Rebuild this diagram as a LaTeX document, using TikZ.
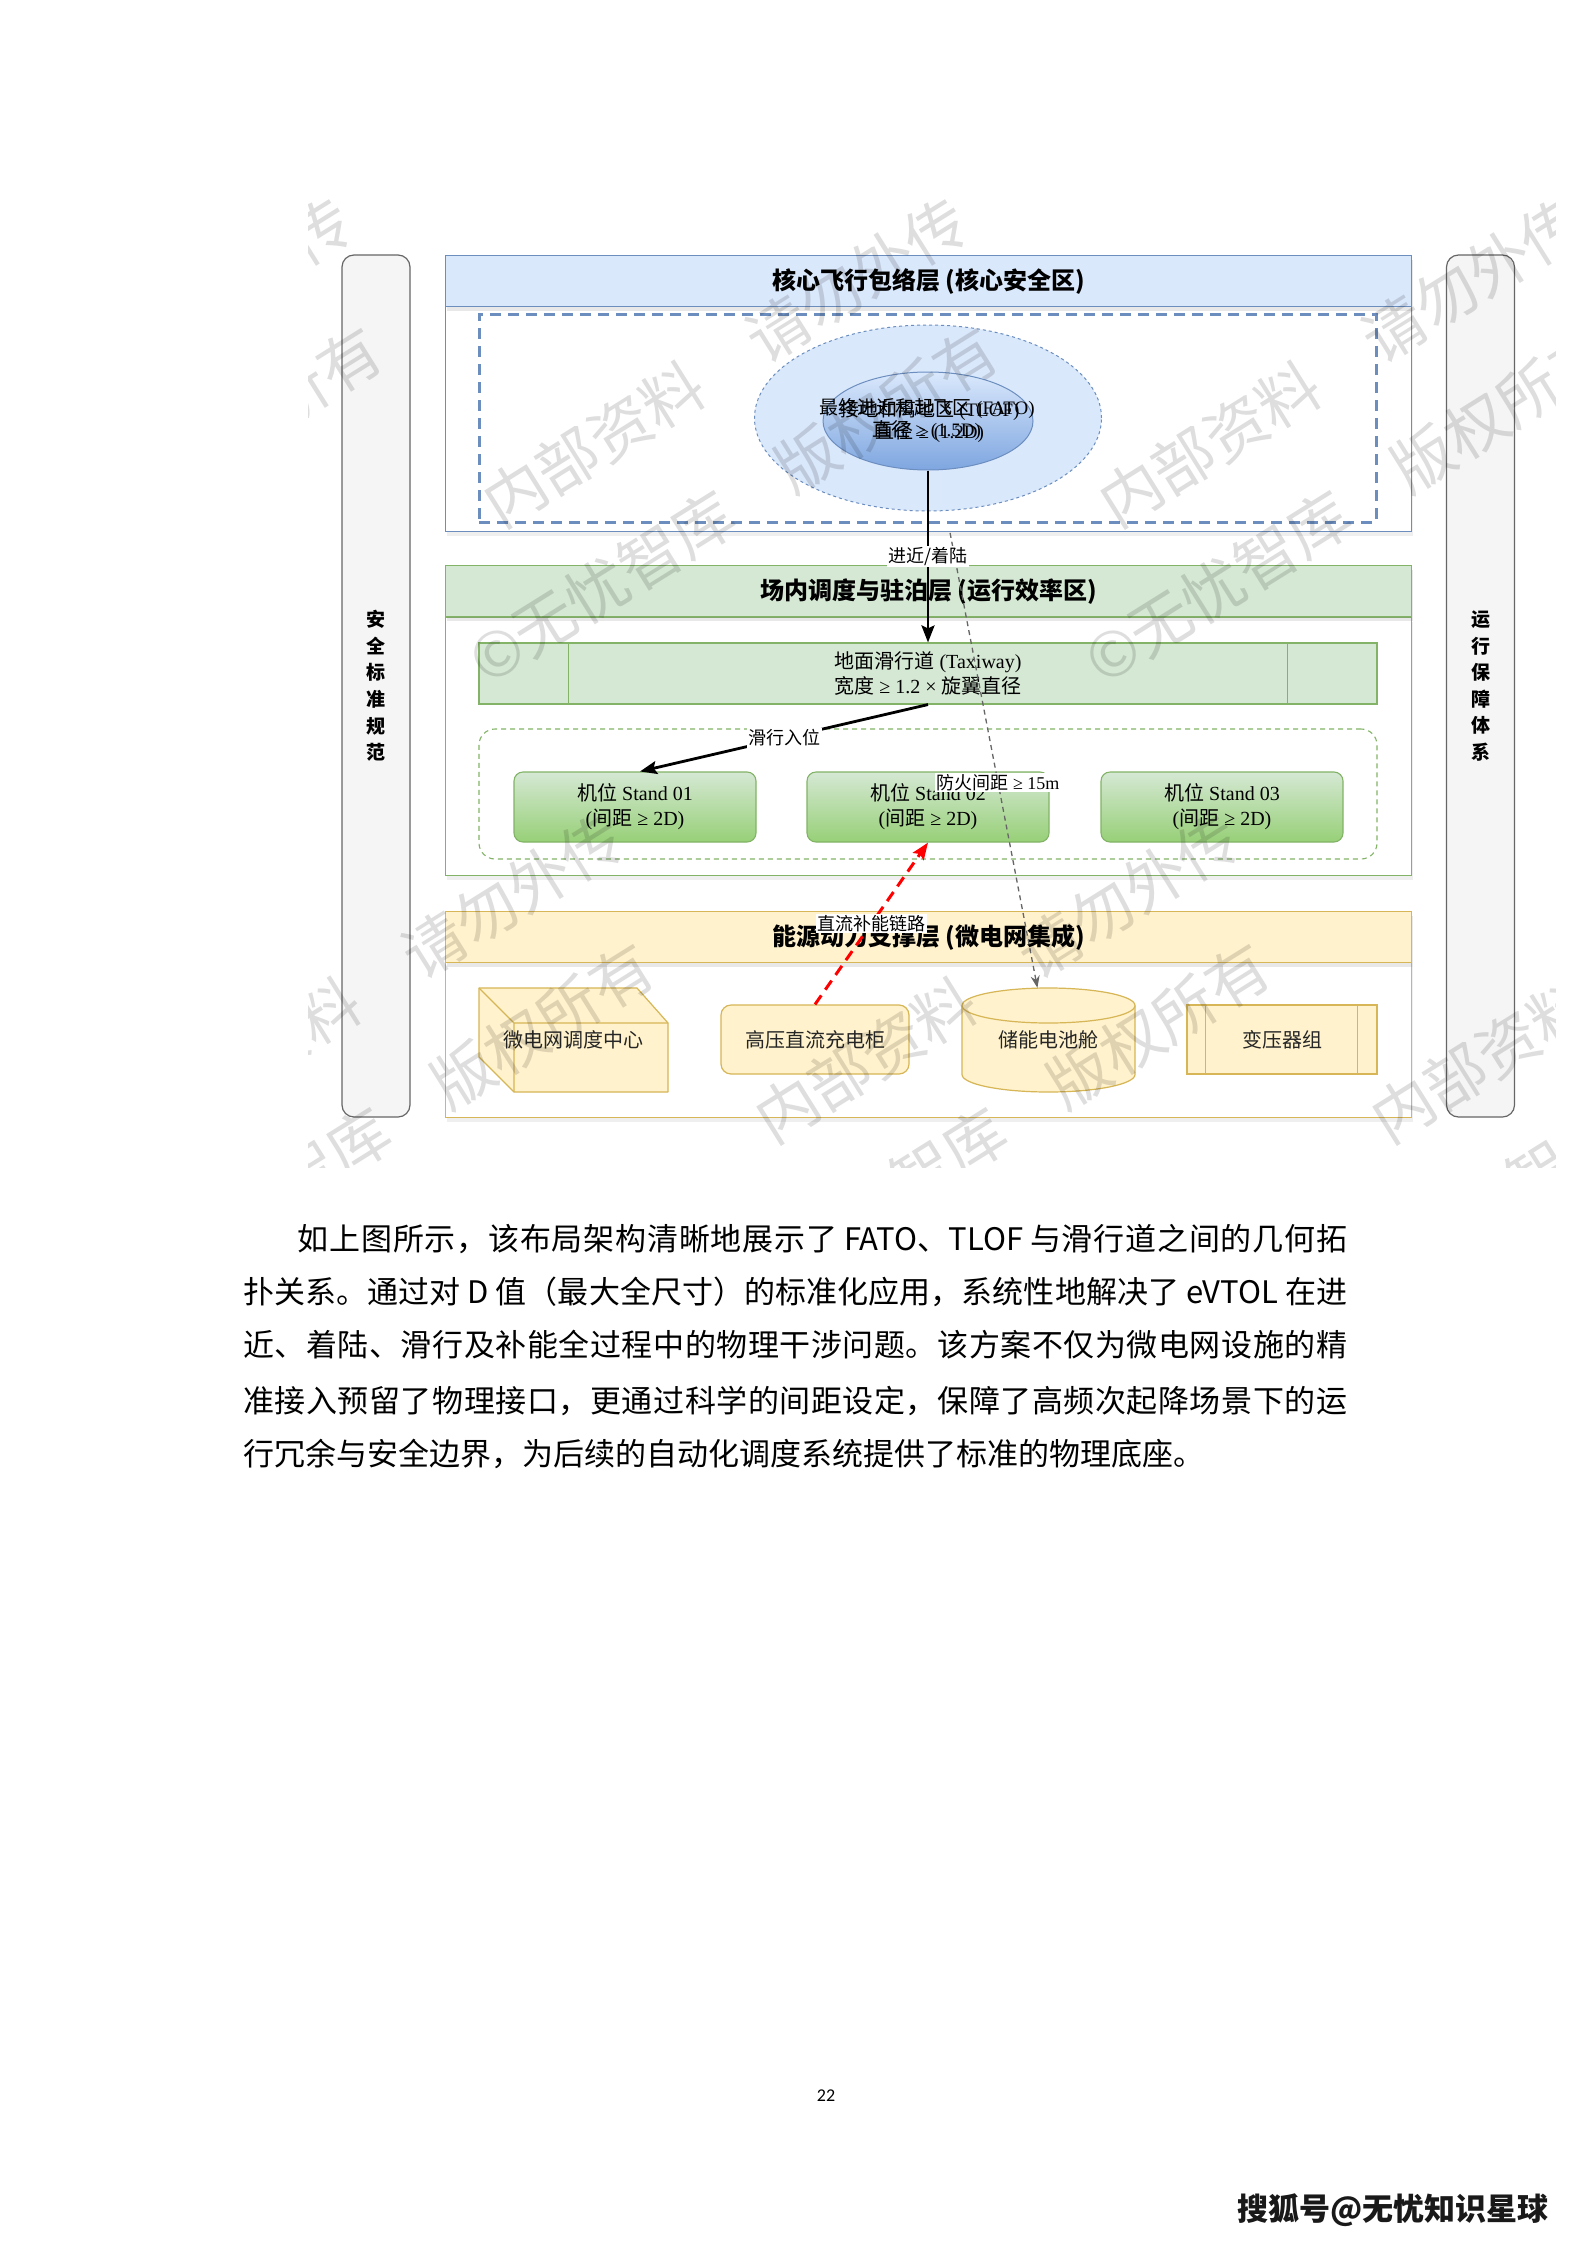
\documentclass[tikz,border=0pt]{standalone}
\usepackage{fontspec}
\setmainfont{Liberation Serif}
\newfontfamily\cjk{Noto Sans CJK SC}
\newfontfamily\pagefont{Carlito}
\usetikzlibrary{arrows.meta,shapes.geometric,shadows}
\pgfdeclarelayer{lower}\pgfdeclarelayer{mid}\pgfdeclarelayer{front}\pgfdeclarelayer{wm}
\pgfsetlayers{lower,mid,main,front,wm}
\definecolor{bfill}{HTML}{DAE8FC}\definecolor{bline}{HTML}{6C8EBF}\definecolor{bdark}{HTML}{7EA6E0}
\definecolor{gfill}{HTML}{D5E8D4}\definecolor{gline}{HTML}{82B366}\definecolor{gdark}{HTML}{97D077}
\definecolor{yfill}{HTML}{FFF2CC}\definecolor{yline}{HTML}{D6B656}
\definecolor{sfill}{HTML}{F5F5F5}\definecolor{sline}{HTML}{666666}
\newcommand\fsz[2]{\fontsize{#1pt}{#2pt}\selectfont}
\newcount\mycnt
\newcommand\setcls[2]{\mycnt=#1\relax\loop\XeTeXcharclass\mycnt=7\relax\advance\mycnt by 1\relax\ifnum\mycnt<#2\repeat}
\setcls{"3000}{"3040}
\setcls{"4E00}{"A000}
\setcls{"FF00}{"FFF0}
\XeTeXinterchartoks 7 7 = {\hskip 0pt plus 1fil\relax}
\newcommand\jline[2]{\XeTeXinterchartokenstate=1 \hbox to #1pt{\cjk\fsz{31}{36}#2}}
\begin{document}
\begin{tikzpicture}[x=1pt,y=-1pt,
  hdr/.style={draw=#1line, fill=#1fill, line width=1.2pt, minimum width=966pt, minimum height=51pt, inner sep=0pt, anchor=north west, font=\cjk\bfseries\fsz{24}{28}, drop shadow={opacity=0.18, shadow xshift=1pt, shadow yshift=-4pt}},
  lbody/.style={draw=#1line, fill=white, line width=1.2pt, minimum width=966pt, inner sep=0pt, anchor=north west, drop shadow={opacity=0.12, shadow xshift=1pt, shadow yshift=-4pt}},
  sidebar/.style={draw=sline, fill=sfill, line width=1.2pt, rounded corners=12pt, minimum width=68pt, minimum height=862pt, inner sep=0pt, align=center, font=\cjk\bfseries\fsz{19}{26.6}},
  standbox/.style={draw=gline, top color=gfill, bottom color=gdark, line width=1.1pt, rounded corners=9pt, minimum width=242pt, minimum height=70pt, inner sep=0pt, align=center, font=\fsz{20}{25}},
  ybox/.style={draw=yline, fill=yfill, line width=1.2pt, minimum height=69pt, inner sep=0pt, font=\cjk\fsz{20}{24}, text=black!85},
  lbl/.style={fill=white, inner sep=1.5pt, font=\cjk\fsz{18}{21}, text=black},
  blk/.style={line width=2.8pt, -{Stealth[length=17pt,width=13pt,inset=3pt]}},
  redarr/.style={draw=red, line width=3pt, dash pattern=on 11pt off 7pt, -{Stealth[length=17pt,width=13pt,inset=3pt]}},
  grayarr/.style={draw=sline, line width=1.3pt, dash pattern=on 5pt off 4pt, -{Stealth[length=12pt,width=9pt]}},
  wmtext/.style={inner sep=0pt, rotate=32, text=black, text opacity=0.13, font=\cjk\fsz{62}{70}}
]
\useasboundingbox (0,0) rectangle (1587,2245);
\begin{pgfonlayer}{lower}
\fill[white] (0,0) rectangle (1587,2245);
\end{pgfonlayer}

% ---------- Layer 1 (main layer) ----------
\node[lbody=b, minimum height=225pt] (l1) at (445,306) {};
\node[hdr=b] (l1h) at (445,255) {核心飞行包络层 (核心安全区)};
\node[draw=bline, line width=3pt, dash pattern=on 11pt off 7pt, minimum width=897pt, minimum height=208pt, inner sep=0pt] (zone) at (927.5,418) {};
\node[ellipse, draw=bline, fill=bfill, dashed, line width=1pt, minimum width=347pt, minimum height=186pt, inner sep=0pt] (fato) at (928,418) {};
\node[ellipse, draw=bline, top color=bfill, bottom color=bdark, line width=1pt, minimum width=210pt, minimum height=98pt, inner sep=0pt] (tlof) at (928,421) {};
\node[align=center, inner sep=0pt, font=\fsz{19}{22}] (fatotxt) at (927,420) {{\cjk 最终进近和起飞区} (FATO)\\{\cjk 直径} ≥ (1.5D)};
\node[align=center, inner sep=0pt, font=\fsz{19}{22}] (tloftxt) at (930,421) {{\cjk 接地和离地区} (TLOF)\\{\cjk 直径} ≥ (1.2D)};

% ---------- side bars ----------
\begin{pgfonlayer}{lower}
\node[sidebar] (lbar) at (376,686) {安\\全\\标\\准\\规\\范};
\node[sidebar] (rbar) at (1480.5,686) {运\\行\\保\\障\\体\\系};

% ---------- Layer 2 ----------
\node[lbody=g, minimum height=258pt] (l2) at (445,617) {};
\node[hdr=g] (l2h) at (445,565) {场内调度与驻泊层 (运行效率区)};
\node[draw=gline, fill=gfill, line width=1.1pt, minimum width=898pt, minimum height=61pt, inner sep=0pt, align=center, font=\fsz{20}{25}] (taxi) at (928,673.5) {{\cjk 地面滑行道} (Taxiway)\\{\cjk 宽度} ≥ 1.2 × {\cjk 旋翼直径}};
\draw[gline, line width=1.1pt] ([xshift=90pt]taxi.north west) -- ([xshift=90pt]taxi.south west);
\draw[gline, line width=1.1pt] ([xshift=-90pt]taxi.north east) -- ([xshift=-90pt]taxi.south east);
\node[draw=gline, line width=1.1pt, dash pattern=on 5pt off 4pt, rounded corners=16pt, minimum width=898pt, minimum height=130pt, inner sep=0pt] (grp) at (928,794) {};
\node[standbox] (st1) at (635,807) {{\cjk 机位} Stand 01\\({\cjk 间距} ≥ 2D)};
\node[standbox] (st2) at (928,807) {{\cjk 机位} Stand 02\\({\cjk 间距} ≥ 2D)};
\node[standbox] (st3) at (1222,807) {{\cjk 机位} Stand 03\\({\cjk 间距} ≥ 2D)};

% ---------- Layer 3 ----------
\node[lbody=y, minimum height=155pt] (l3) at (445,962) {};
\node[hdr=y] (l3h) at (445,911) {能源动力支撑层 (微电网集成)};
\draw[yline, fill=yfill, line width=1.2pt, line join=round] (479,988) -- (637,988) -- (668,1023) -- (668,1092) -- (514,1092) -- (479,1057) -- cycle;
\draw[yline, line width=1.2pt] (479,988) -- (514,1023) -- (668,1023) (514,1023) -- (514,1092);
\node[minimum width=189pt, minimum height=104pt, inner sep=0pt, font=\cjk\fsz{20}{24}, text=black!85] (mgc) at (573.5,1040) {微电网调度中心};
\node[ybox, rounded corners=10pt, minimum width=188pt] (hvdc) at (815,1039.5) {高压直流充电柜};
\path[fill=yfill, draw=yline, line width=1.2pt] (962,1005.5) -- (962,1074.5) arc[start angle=180, end angle=360, x radius=86.5pt, y radius=17.5pt] -- (1135,1005.5) arc[start angle=0, end angle=180, x radius=86.5pt, y radius=17.5pt] -- cycle;
\draw[yline, line width=1.2pt] (962,1005.5) arc[start angle=180, end angle=360, x radius=86.5pt, y radius=17.5pt];
\node[minimum width=173pt, minimum height=104pt, inner sep=0pt, font=\cjk\fsz{20}{24}, text=black!85] (bat) at (1048.5,1040) {储能电池舱};
\node[ybox, minimum width=190pt] (trans) at (1282,1039.5) {变压器组};
\draw[yline, line width=1.2pt] ([xshift=19pt]trans.north west) -- ([xshift=19pt]trans.south west);
\draw[yline, line width=1.2pt] ([xshift=-20pt]trans.north east) -- ([xshift=-20pt]trans.south east);
\end{pgfonlayer}

% ---------- gray dashed edge (under layer 1) ----------
\begin{pgfonlayer}{mid}
\draw[grayarr] (fato.center) -- node[pos=0.64, lbl, font=\fsz{18}{21}] (firelbl) {{\cjk 防火间距} ≥ 15m} (bat.102.5);
\end{pgfonlayer}

% ---------- front edges ----------
\begin{pgfonlayer}{front}
\draw[blk] (tlof.south) -- node[lbl] (applbl) {进近/着陆} (taxi.north);
\draw[blk] (taxi.south) -- node[lbl] (taxlbl) {滑行入位} ([xshift=5pt]st1.north);
\draw[redarr] (hvdc.north) -- node[lbl] (dclbl) {直流补能链路} (st2.south);
\end{pgfonlayer}

% ---------- paragraph ----------
\node[anchor=base west, inner sep=0pt] (p1) at (297.5,1250) {\jline{1049.5}{如上图所示，该布局架构清晰地展示了 FATO、TLOF 与滑行道之间的几何拓}};
\node[anchor=base west, inner sep=0pt] (p2) at (243,1303) {\jline{1104}{扑关系。通过对 D 值（最大全尺寸）的标准化应用，系统性地解决了 eVTOL 在进}};
\node[anchor=base west, inner sep=0pt] (p3) at (243,1356) {\jline{1104}{近、着陆、滑行及补能全过程中的物理干涉问题。该方案不仅为微电网设施的精}};
\node[anchor=base west, inner sep=0pt] (p4) at (243,1412) {\jline{1104}{准接入预留了物理接口，更通过科学的间距设定，保障了高频次起降场景下的运}};
\node[anchor=base west, inner sep=0pt, font=\cjk\fsz{31}{36}] (p5) at (243,1465) {行冗余与安全边界，为后续的自动化调度系统提供了标准的物理底座。};

\node[inner sep=0pt, font=\pagefont\fsz{18}{22}] (pg) at (826,2096) {22};
\node[inner sep=0pt, font=\cjk\bfseries\fsz{31}{36}, text=black!90] (foot) at (1393,2210) {搜狐号@无忧知识星球};

% ---------- watermark ----------
\begin{pgfonlayer}{wm}
\begin{scope}
\clip (308,200) rectangle (1555,1167);
\foreach \i in {-1,0,1}{
  \foreach \j in {0,1}{
    \node[wmtext, anchor=base west] (wa\i\j) at ({501+616*\i+272*\j},{530+616*\j}) {内部资料　请勿外传};
    \node[wmtext, anchor=base west] (wb\i\j) at ({487+616*\i+272*\j},{687+616*\j}) {©无忧智库　版权所有};
  }
}
\end{scope}
\end{pgfonlayer}
\end{tikzpicture}
\end{document}
